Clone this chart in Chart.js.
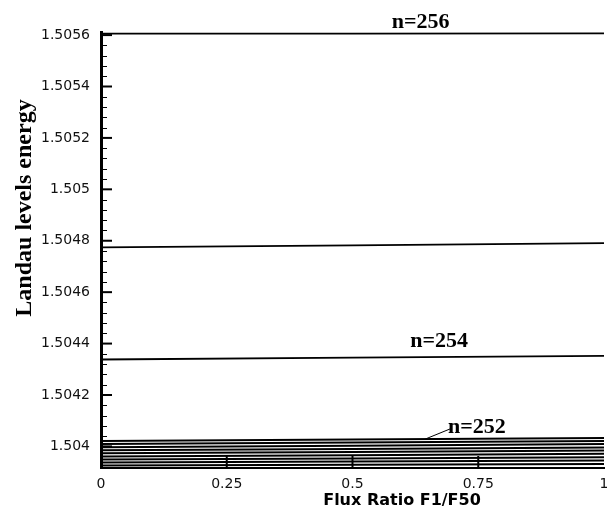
<!DOCTYPE html>
<html>
<head>
<meta charset="utf-8">
<script src="https://cdn.jsdelivr.net/npm/chart.js@4.4.0/dist/chart.umd.min.js"></script>
<style>
  html, body { margin: 0; padding: 0; background: #fff; }
  canvas { display: block; }
</style>
</head>
<body>
<canvas id="landau" width="607" height="506"></canvas>
<script>
// Landau level energies vs flux ratio
const fluxRatio = [0, 0.5, 1];
const level256 = [1.505606, 1.505606, 1.505607];
const level255 = [1.504774, 1.504782, 1.504791];
const level254 = [1.504338, 1.504345, 1.504352];
// packed levels near the bottom, n=252 first
const lowLevels = [
    [1.504021, 1.504027, 1.504033],
    [1.504009, 1.504015, 1.504021],
    [1.503997, 1.504003, 1.504009],
    [1.503985, 1.503990, 1.503996],
    [1.503973, 1.503978, 1.503984],
    [1.503961, 1.503966, 1.503971],
    [1.503949, 1.503953, 1.503958],
    [1.503937, 1.503941, 1.503945],
    [1.503926, 1.503929, 1.503932],
];
const xTicks = [0, 0.25, 0.5, 0.75, 1];
const xTickLabels = ['0', '0.25', '0.5', '0.75', '1'];
const yTicks = [1.5056, 1.5054, 1.5052, 1.505, 1.5048, 1.5046, 1.5044, 1.5042, 1.504];
const yTickLabels = ['1.5056', '1.5054', '1.5052', '1.505', '1.5048', '1.5046', '1.5044', '1.5042', '1.504'];
const yMinorStep = 0.00004;
const levelLabels = [
    { text: 'n=256', x: 0.578, y: 1.505629 },
    { text: 'n=254', x: 0.615, y: 1.504385 },
    { text: 'n=252', x: 0.69, y: 1.504053 },
];
const xTitle = 'Flux Ratio F1/F50';
const yTitle = 'Landau levels energy';

const toPoints = (ys) => ys.map((y, i) => ({ x: fluxRatio[i], y }));
const lineSet = (ys, w) => ({
    data: toPoints(ys), borderColor: '#000', borderWidth: w,
    pointRadius: 0, tension: 0, fill: false,
});

const datasets = [
    lineSet(level256, 1.8),
    lineSet(level255, 1.8),
    lineSet(level254, 1.8),
    ...lowLevels.map(l => lineSet(l, 2)),
];

// inward tick marks, level labels and axis titles
const decorations = {
    id: 'decorations',
    afterDatasetsDraw(chart) {
        const { ctx, chartArea: a, scales: { x, y } } = chart;
        ctx.save();
        ctx.strokeStyle = '#000';

        // y major + minor ticks
        ctx.lineWidth = 2;
        yTicks.forEach(v => {
            const py = y.getPixelForValue(v);
            ctx.beginPath(); ctx.moveTo(a.left, py); ctx.lineTo(a.left + 11, py); ctx.stroke();
        });
        ctx.lineWidth = 1;
        for (let k = 0; ; k++) {
            const v = yTicks[yTicks.length - 1] + k * yMinorStep;
            if (v > y.max) break;
            if (k % 5 === 0) continue;
            const py = Math.round(y.getPixelForValue(v)) + 0.5;
            ctx.beginPath(); ctx.moveTo(a.left, py); ctx.lineTo(a.left + 6, py); ctx.stroke();
        }
        // x major ticks
        ctx.lineWidth = 2;
        xTicks.slice(1, -1).forEach(v => {
            const px = x.getPixelForValue(v);
            ctx.beginPath(); ctx.moveTo(px, a.bottom); ctx.lineTo(px, a.bottom - 12); ctx.stroke();
        });

        // level labels
        ctx.fillStyle = '#000';
        ctx.font = 'bold 22px "Liberation Serif", serif';
        ctx.textAlign = 'left';
        ctx.textBaseline = 'alphabetic';
        levelLabels.forEach(l => ctx.fillText(l.text, x.getPixelForValue(l.x), y.getPixelForValue(l.y)));
        // leader for n=252
        ctx.lineWidth = 1;
        ctx.beginPath();
        ctx.moveTo(x.getPixelForValue(0.644), y.getPixelForValue(1.504028));
        ctx.lineTo(x.getPixelForValue(0.694), y.getPixelForValue(1.504068));
        ctx.stroke();

        // axis titles
        ctx.font = 'bold 16px "DejaVu Sans", sans-serif';
        ctx.textAlign = 'center';
        ctx.fillText(xTitle, 402, 505);
        ctx.font = 'bold 24px "Liberation Serif", serif';
        ctx.translate(31, 208);
        ctx.rotate(-Math.PI / 2);
        ctx.fillText(yTitle, 0, 0);
        ctx.restore();
    },
};

new Chart(document.getElementById('landau'), {
    type: 'line',
    data: { datasets },
    options: {
        responsive: false,
        animation: false,
        layout: { padding: { top: 32, right: 3, left: 0, bottom: 0 } },
        plugins: { legend: { display: false }, tooltip: { enabled: false } },
        scales: {
            x: {
                type: 'linear', min: 0, max: 1,
                afterBuildTicks: (s) => { s.ticks = xTicks.map(value => ({ value })); },
                afterFit: (s) => { s.height = 38; s.paddingRight = 0; s.paddingLeft = 0; },
                grid: { drawOnChartArea: false, drawTicks: false },
                border: { color: '#000', width: 2 },
                ticks: {
                    padding: 8, color: '#111',
                    font: { family: 'DejaVu Sans', size: 14 },
                    maxRotation: 0,
                    callback: (v) => xTickLabels[xTicks.indexOf(v)] ?? '',
                },
            },
            y: {
                type: 'linear', min: 1.503916, max: 1.505612,
                afterBuildTicks: (s) => { s.ticks = yTicks.map(value => ({ value })); },
                afterFit: (s) => { s.width = 101; },
                grid: { drawOnChartArea: false, drawTicks: false },
                border: { color: '#000', width: 3 },
                ticks: {
                    padding: 11, color: '#111',
                    font: { family: 'DejaVu Sans', size: 14 },
                    callback: (v) => yTickLabels[yTicks.indexOf(v)] ?? '',
                },
            },
        },
    },
    plugins: [decorations],
});
</script>
</body>
</html>
